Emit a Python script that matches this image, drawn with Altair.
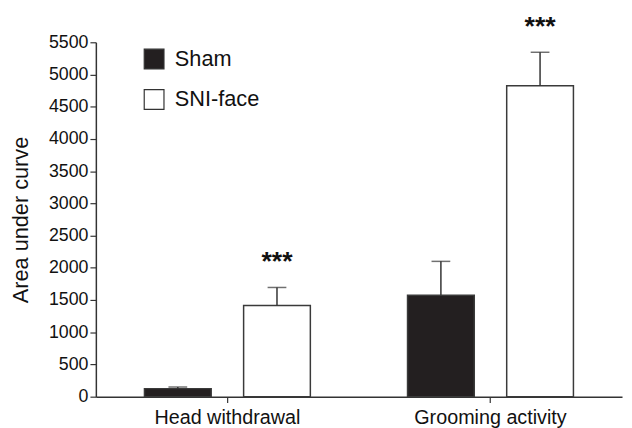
import altair as alt
import pandas as pd

categories = ["Head withdrawal", "Head withdrawal", "Grooming activity", "Grooming activity"]
groups = ["Sham", "SNI-face", "Sham", "SNI-face"]
means = [125, 1415, 1575, 4825]
sems = [25, 280, 525, 520]
stars = ["", "***", "", "***"]
y_ticks = [0, 500, 1000, 1500, 2000, 2500, 3000, 3500, 4000, 4500, 5000, 5500]

df = pd.DataFrame({
    "category": categories,
    "group": groups,
    "mean": means,
    "sem": sems,
    "stars": stars,
})
df["top"] = df["mean"] + df["sem"]

cat_order = ["Head withdrawal", "Grooming activity"]
grp_order = ["Sham", "SNI-face"]
FONT = "Liberation Sans"
AX = "#333333"

x = alt.X("category:N", sort=cat_order, title=None,
          scale=alt.Scale(paddingInner=0, paddingOuter=0),
          axis=alt.Axis(labelAngle=0, labelFontSize=20, labelFont=FONT, labelColor="#111",
                        tickSize=6, tickColor=AX, domainColor=AX, domainWidth=1.5,
                        tickWidth=1.2, labelPadding=5))
xo = alt.XOffset("group:N", sort=grp_order,
                 scale=alt.Scale(paddingInner=0.327, paddingOuter=0.49))
y_scale = alt.Scale(domain=[0, 5500], nice=False, zero=True)
y_axis = alt.Axis(values=y_ticks, format="d", labelFontSize=18, labelFont=FONT,
                  labelColor="#111", titleFont=FONT, titleFontSize=22,
                  titleFontWeight="normal", titleColor="#111", titlePadding=16,
                  tickSize=6, tickColor=AX, domainColor=AX, domainWidth=1.5,
                  tickWidth=1.2, labelPadding=2, grid=False)

base = alt.Chart(df)

bars = base.mark_bar(stroke="#3a3a3a", strokeWidth=1.5).encode(
    x=x,
    xOffset=xo,
    y=alt.Y("mean:Q", scale=y_scale, title="Area under curve", axis=y_axis),
    fill=alt.Fill("group:N", sort=grp_order,
                  scale=alt.Scale(domain=grp_order, range=["#231f20", "#ffffff"]),
                  legend=alt.Legend(title=None, orient="none", legendX=48, legendY=6,
                                    symbolType="square", symbolSize=400,
                                    symbolStrokeColor="#333", symbolStrokeWidth=1.2,
                                    labelFontSize=22, labelFont=FONT, labelColor="#111",
                                    rowPadding=15, labelOffset=10)),
)

rules = base.mark_rule(color="#333", strokeWidth=1.5).encode(
    x=x, xOffset=xo,
    y=alt.Y("mean:Q", scale=y_scale, title="Area under curve", axis=y_axis),
    y2="top:Q",
)

caps = base.mark_tick(color="#333", size=19, thickness=1.5).encode(
    x=x, xOffset=xo,
    y=alt.Y("top:Q", scale=y_scale, title="Area under curve", axis=y_axis),
)

txt = base.mark_text(font=FONT, fontSize=27, fontWeight="bold", color="#111",
                     baseline="middle", dy=-26, clip=False).encode(
    x=x, xOffset=xo,
    y=alt.Y("top:Q", scale=y_scale, title="Area under curve", axis=y_axis),
    text="stars:N",
)

chart = alt.layer(bars, rules, caps, txt).properties(
    width=533, height=359,
    autosize=alt.AutoSizeParams(type="none"),
    padding={"left": 89, "top": 32, "right": 2, "bottom": 30},
    background="white",
).configure_view(stroke=None)

chart.save("out.html", embed_options={"renderer": "svg", "actions": False})
